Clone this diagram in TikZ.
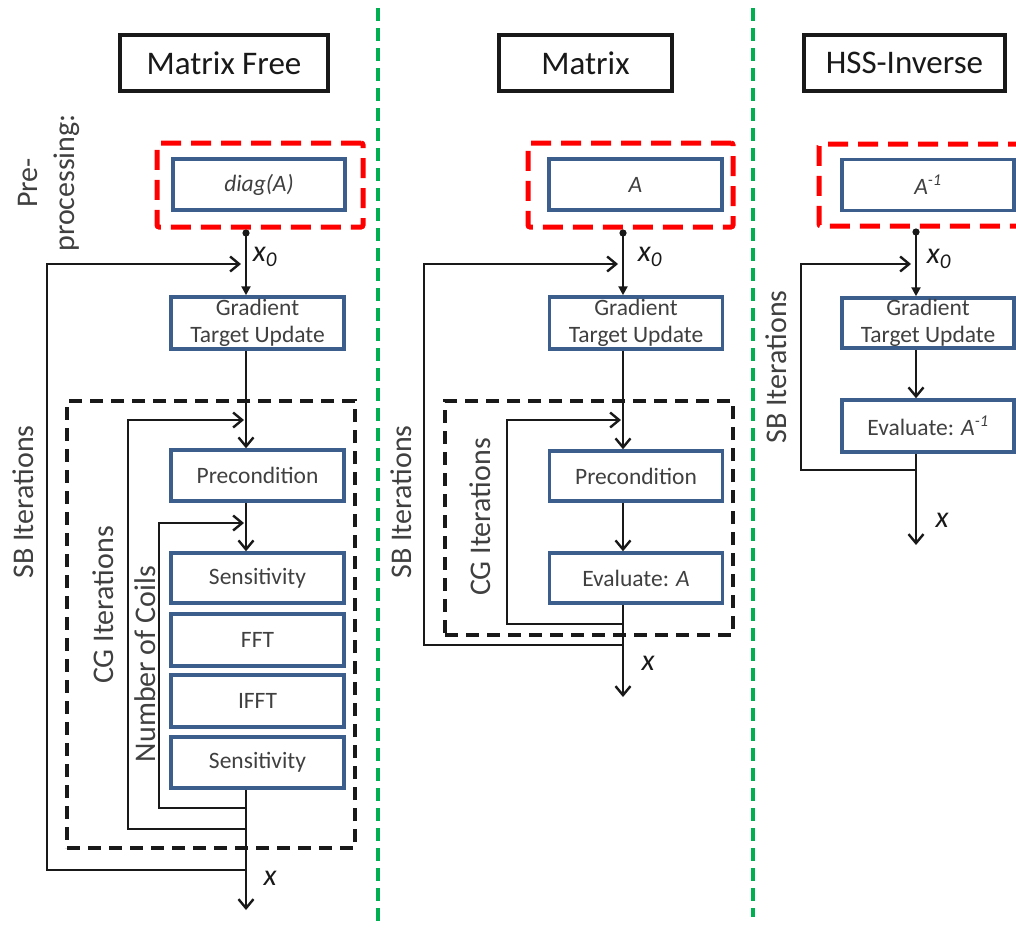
\documentclass[tikz,border=0pt]{standalone}
\usepackage{fontspec}
\setmainfont{Carlito}
\usetikzlibrary{arrows.meta}
\definecolor{bxblue}{RGB}{59,94,140}
\definecolor{txtgray}{RGB}{64,64,64}
\definecolor{grn}{RGB}{0,176,80}
\begin{document}
\begin{tikzpicture}[x=1pt,y=-1pt,
 blk/.style={draw=bxblue,line width=3.5pt,fill=white,inner sep=0pt,text=txtgray,
   font=\fontsize{23.5}{27}\selectfont,align=center,minimum width=173pt,minimum height=51pt},
 hdr/.style={draw=black!90,line width=3.5pt,inner sep=0pt,minimum height=56pt,
   font=\fontsize{33}{36}\selectfont,text=black!90},
 redbox/.style={draw=red,line width=5pt,dash pattern=on 20pt off 10pt,rounded corners=2pt,inner sep=0pt},
 blkbox/.style={draw=black!90,line width=3.5pt,dash pattern=on 13pt off 8pt,inner sep=0pt},
 grnline/.style={draw=grn,line width=4pt,dash pattern=on 13pt off 7pt},
 wire/.style={draw=black!90,line width=2.4pt},
 arr/.style={wire,-{Straight Barb[length=9pt,width=15pt]}},
 startarr/.style={wire,{Circle[length=7pt]}-{Triangle[length=9pt,width=9pt]}},
 rlab/.style={rotate=90,text=txtgray,font=\fontsize{30}{37}\selectfont,align=center,inner sep=0pt},
 mlab/.style={text=black!90,font=\fontsize{30}{32}\selectfont\itshape,inner sep=0pt}
]
\useasboundingbox (0,0) rectangle (1016,927);
\clip (0,0) rectangle (1016,927);
\fill[white] (0,0) rectangle (1016,927);

% separators
\draw[grnline] (378,8) -- (378,927);
\draw[grnline] (753,8) -- (753,917);

% headers
\node[hdr,minimum width=208pt] (hL) at (224,63) {Matrix Free};
\node[hdr,minimum width=173pt] (hM) at (585.5,63) {Matrix};
\node[hdr,minimum width=201pt] (hR) at (904.5,63) {HSS-Inverse};

% ===== left column =====
\coordinate (mL) at (246,0);
\node[rlab] (preL) at (49,183) {Pre-\\processing:};
\node[redbox,minimum width=206pt,minimum height=84pt] (prepL) at (260,185) {};
\node[blk,minimum width=172pt] (diagL) at (259,184.5) {\itshape diag(A)};
\node[blk,minimum height=52pt] (gradL) at (257.5,323) {Gradient\\Target Update};
\node[blkbox,minimum width=288pt,minimum height=447pt] (cgL) at (211,624.5) {};
\node[blk] (precL) at (257.5,475.5) {Precondition};
\node[blk,minimum height=50pt] (sensA) at (257.5,578) {Sensitivity};
\node[blk,minimum height=52pt] (fft) at (257.5,640) {FFT};
\node[blk,minimum height=52pt] (ifft) at (257.5,701) {IFFT};
\node[blk] (sensB) at (257.5,762.5) {Sensitivity};
\node[rlab] (sbLlab) at (23,502) {SB Iterations};
\node[rlab] (cgLlab) at (103,605) {CG Iterations};
\node[rlab] (coilLlab) at (145,664) {Number of Coils};
\node[mlab] (x0L) at (265,257) {x\textsubscript{\itshape 0}};
\node[mlab] (xL) at (270,878) {x};

\coordinate (outL) at (246,910);
\coordinate (sbLa) at (246,870);
\coordinate (sbLb) at (47,870);
\coordinate (sbLc) at (47,264);
\coordinate (sbLd) at (241,264);
\coordinate (cgLa) at (246,829);
\coordinate (cgLb) at (128,829);
\coordinate (cgLc) at (128,420);
\coordinate (cgLd) at (244,420);
\coordinate (coLa) at (246,808);
\coordinate (coLb) at (159,808);
\coordinate (coLc) at (159,523);
\coordinate (coLd) at (244,523);

\draw[startarr] (prepL.south -| mL) -- (gradL.north -| mL);
\draw[arr] (gradL.south -| mL) -- (precL.north -| mL);
\draw[arr] (precL.south -| mL) -- (sensA.north -| mL);
\draw[arr] (sensB.south -| mL) -- (outL);
\draw[arr] (sbLa) -- (sbLb) -- (sbLc) -- (sbLd);
\draw[arr] (cgLa) -- (cgLb) -- (cgLc) -- (cgLd);
\draw[arr] (coLa) -- (coLb) -- (coLc) -- (coLd);

% ===== middle column =====
\coordinate (mM) at (623,0);
\node[redbox,minimum width=205pt,minimum height=84pt] (prepM) at (630.5,185) {};
\node[blk] (aM) at (635.5,184.5) {\itshape A};
\node[blk,minimum height=52pt] (gradM) at (636,323) {Gradient\\Target Update};
\node[blkbox,minimum width=288pt,minimum height=234pt] (cgM) at (589,518) {};
\node[blk,minimum height=50pt] (precM) at (636,476) {Precondition};
\node[blk,minimum height=50pt] (evalM) at (636,578) {Evaluate: \textit{A}};
\node[rlab] (sbMlab) at (401,502) {SB Iterations};
\node[rlab] (cgMlab) at (480,517) {CG Iterations};
\node[mlab] (x0M) at (650,257) {x\textsubscript{\itshape 0}};
\node[mlab] (xM) at (648,663) {x};

\coordinate (outM) at (623,697);
\coordinate (sbMa) at (623,645);
\coordinate (sbMb) at (424,645);
\coordinate (sbMc) at (424,264);
\coordinate (sbMd) at (618,264);
\coordinate (cgMa) at (623,624);
\coordinate (cgMb) at (507,624);
\coordinate (cgMc) at (507,420);
\coordinate (cgMd) at (621,420);

\draw[startarr] (prepM.south -| mM) -- (gradM.north -| mM);
\draw[arr] (gradM.south -| mM) -- (precM.north -| mM);
\draw[arr] (precM.south -| mM) -- (evalM.north -| mM);
\draw[arr] (evalM.south -| mM) -- (outM);
\draw[arr] (sbMa) -- (sbMb) -- (sbMc) -- (sbMd);
\draw[arr] (cgMa) -- (cgMb) -- (cgMc) -- (cgMd);

% ===== right column =====
\coordinate (mR) at (916,0);
\node[redbox,minimum width=211pt,minimum height=82pt] (prepR) at (924.5,185) {};
\node[blk,minimum width=172pt] (aR) at (928,185) {\itshape A\textsuperscript{-1}};
\node[blk,minimum width=172pt,minimum height=50pt] (gradR) at (928,323) {Gradient\\Target Update};
\node[blk,minimum width=172pt,minimum height=52pt] (evalR) at (928,426) {Evaluate: \textit{A\textsuperscript{-1}}};
\node[rlab] (sbRlab) at (776,367) {SB Iterations};
\node[mlab] (x0R) at (939,259) {x\textsubscript{\itshape 0}};
\node[mlab] (xR) at (942,520) {x};

\coordinate (outR) at (916,545);
\coordinate (sbRa) at (916,470);
\coordinate (sbRb) at (801,470);
\coordinate (sbRc) at (801,264);
\coordinate (sbRd) at (911,264);

\draw[startarr] (prepR.south -| mR) -- (gradR.north -| mR);
\draw[arr] (gradR.south -| mR) -- (evalR.north -| mR);
\draw[arr] (evalR.south -| mR) -- (outR);
\draw[arr] (sbRa) -- (sbRb) -- (sbRc) -- (sbRd);
\end{tikzpicture}
\end{document}
